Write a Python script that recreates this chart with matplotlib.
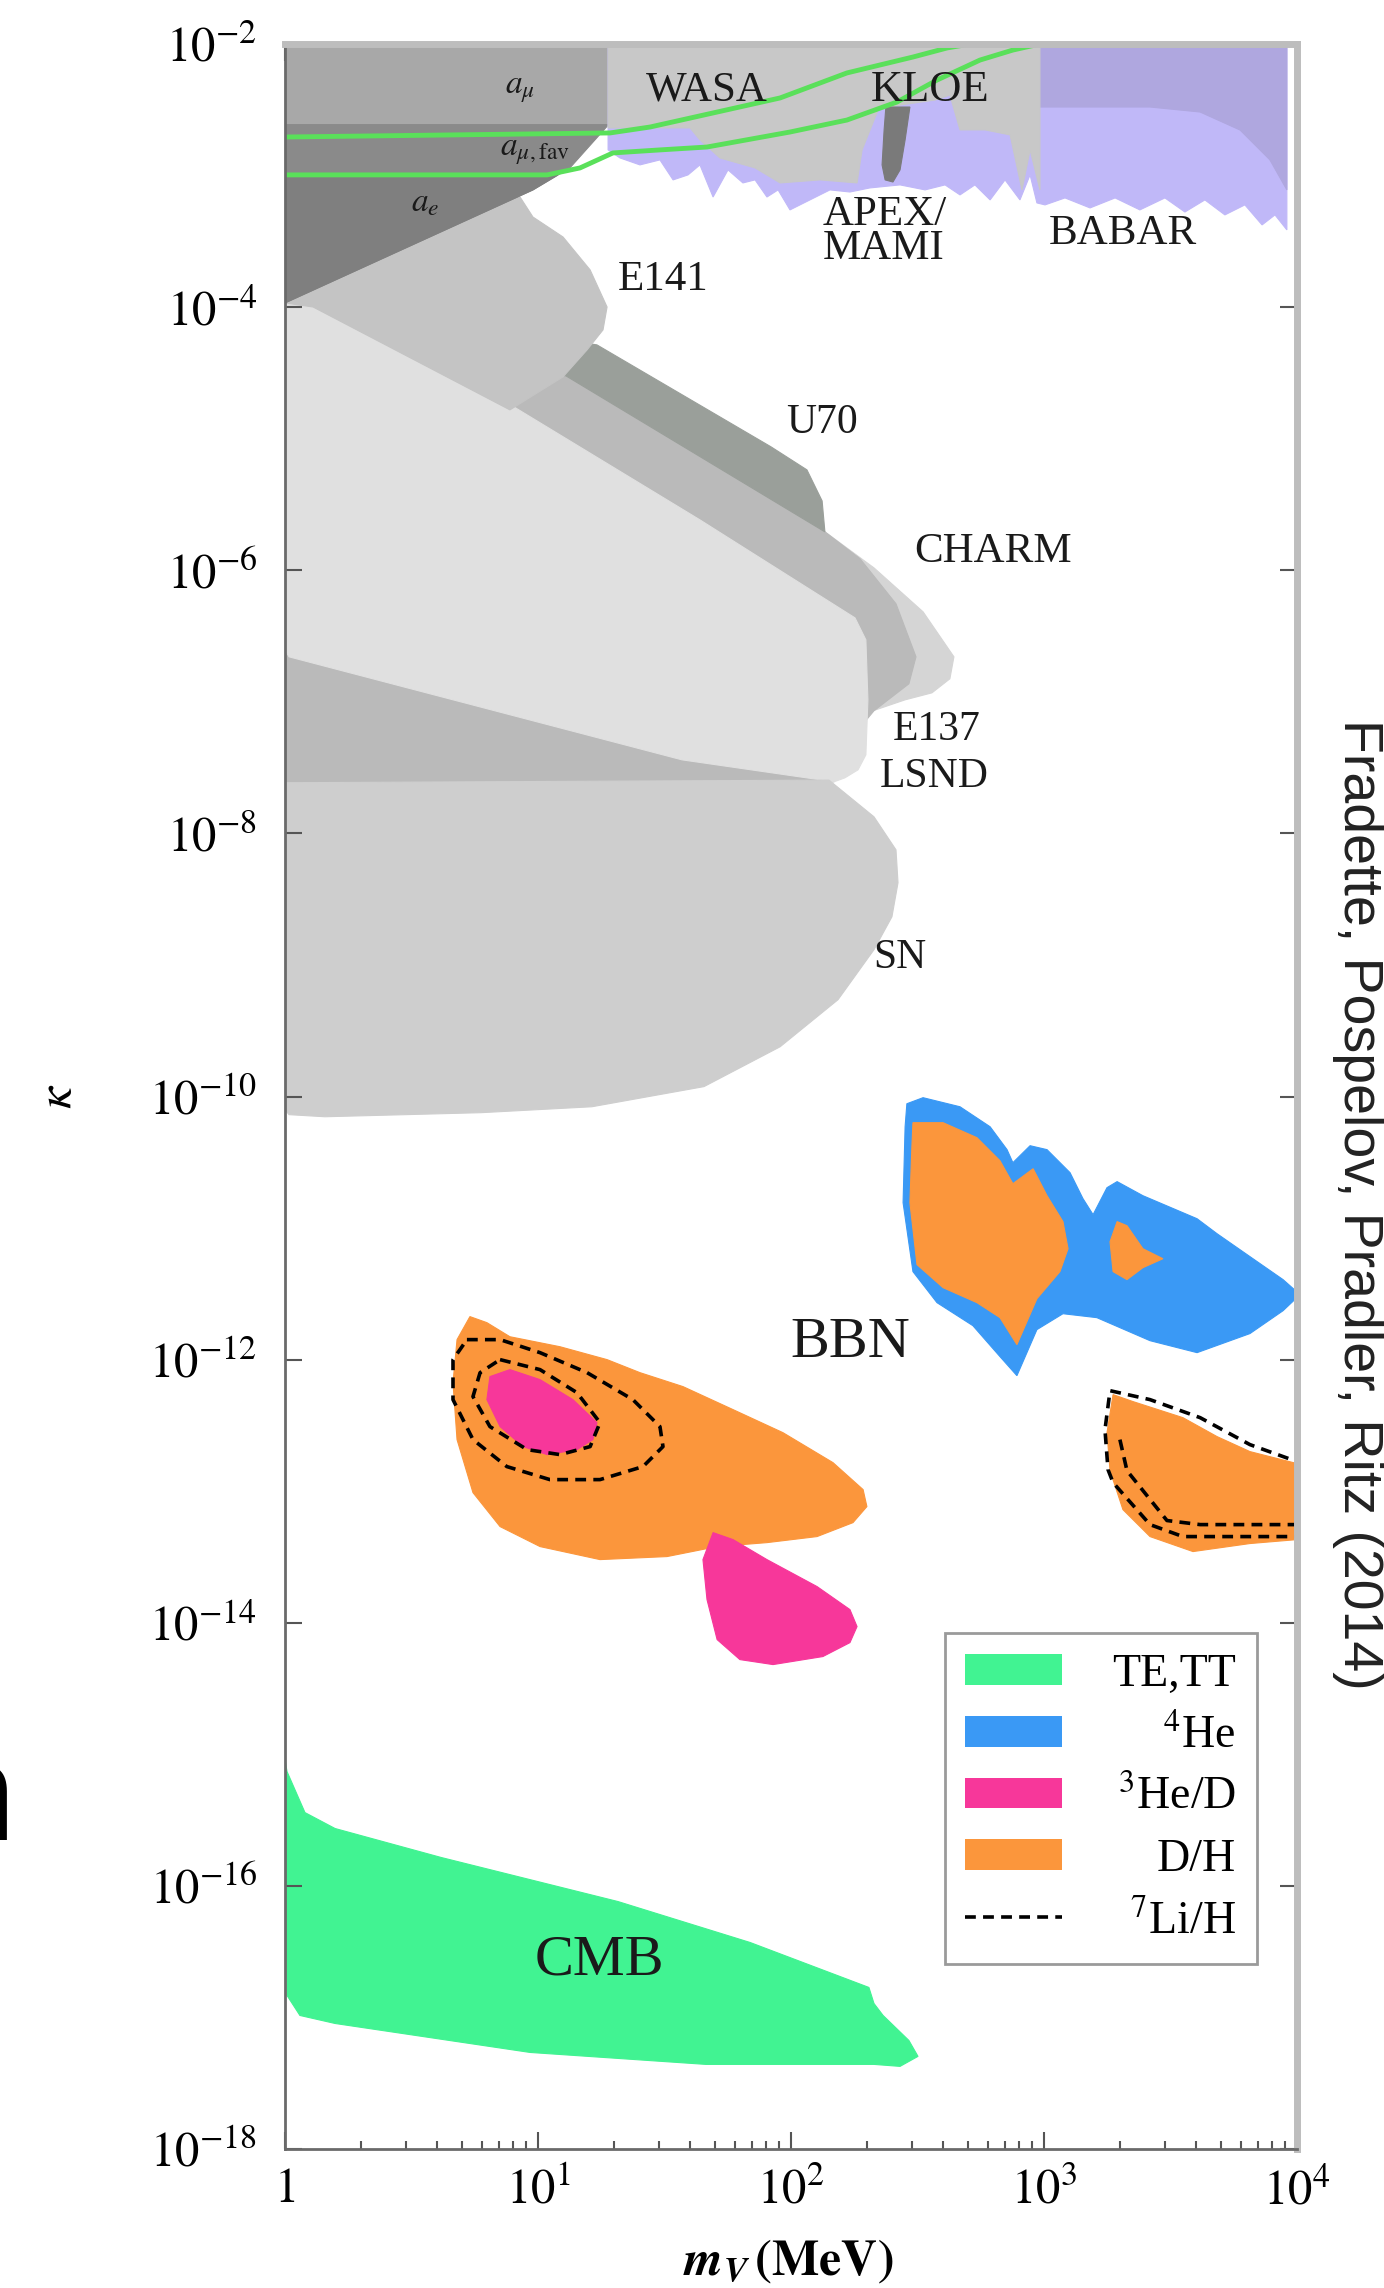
import numpy as np
import matplotlib.pyplot as plt
from matplotlib.patches import Patch
from matplotlib.lines import Line2D
from matplotlib.ticker import NullLocator, LogLocator

plt.rcParams['font.family'] = ['Liberation Serif', 'DejaVu Serif']
plt.rcParams['mathtext.fontset'] = 'stix'

# Exclusion regions in log10(m_V / MeV) and log10(kappa)
amu_lm = [0.0, 1.28, 1.28, 0.0]
amu_lk = [-2.0, -2.0, -2.60, -2.60]

amufav_lm = [0.0, 1.285, 1.126, 0.980, 0.0]
amufav_lk = [-2.60, -2.60, -2.942, -3.109, -3.968]

ae_lm = [0.0, 1.079, 0.980, 0.0]
ae_lk = [-2.995, -2.995, -3.109, -3.968]

# g-2 favoured band edges
gm2_up_lm = [0.0, 1.285, 1.443, 1.692, 1.957, 2.221, 2.482, 2.617, 2.708, 2.787]
gm2_up_lk = [-2.707, -2.676, -2.631, -2.524, -2.410, -2.220, -2.099, -2.030, -2.0, -1.954]
gm2_lo_lm = [0.0, 1.036, 1.166, 1.296, 1.482, 1.668, 1.996, 2.221, 2.419, 2.577, 2.747, 2.877, 2.984, 3.063]
gm2_lo_lk = [-2.995, -2.995, -2.942, -2.828, -2.805, -2.783, -2.669, -2.578, -2.441, -2.274, -2.122, -2.046, -2.0, -1.954]

babar_lm = [1.277, 3.960, 3.960, 3.913, 3.862, 3.794, 3.715, 3.636, 3.557, 3.478, 3.379, 3.281,
            3.182, 3.083, 3.004, 2.972, 2.945, 2.905, 2.846, 2.787, 2.727, 2.668, 2.609, 2.530,
            2.431, 2.312, 2.233, 2.154, 2.075, 1.996, 1.949, 1.905, 1.858, 1.810, 1.751, 1.692,
            1.640, 1.593, 1.534, 1.482, 1.403, 1.324, 1.277]
babar_lk = [-2.0, -2.0, -3.413, -3.299, -3.375, -3.223, -3.299, -3.185, -3.277, -3.170, -3.261, -3.170,
            -3.246, -3.170, -3.223, -3.208, -2.995, -3.185, -3.033, -3.185, -3.071, -3.147, -3.071, -3.109,
            -3.071, -3.094, -3.125, -3.109, -3.185, -3.261, -3.109, -3.163, -3.033, -3.056, -2.957, -3.163,
            -2.919, -2.995, -3.033, -2.881, -2.919, -2.866, -2.805]

babar_top_lm = [2.972, 3.960, 3.960, 3.893, 3.775, 3.617, 3.419, 2.972]
babar_top_lk = [-2.0, -2.0, -3.109, -2.881, -2.654, -2.517, -2.479, -2.479]

wasa_lm = [1.277, 2.984, 2.984, 2.945, 2.913, 2.866, 2.767, 2.668, 2.628, 2.569, 2.431, 2.344,
           2.281, 2.261, 2.115, 1.957, 1.858, 1.719, 1.640, 1.601, 1.277]
wasa_lk = [-2.0, -2.0, -3.109, -2.805, -3.109, -2.691, -2.653, -2.653, -2.388, -2.426, -2.464, -2.502,
           -2.805, -3.056, -3.033, -3.056, -2.942, -2.866, -2.729, -2.638, -2.638]

apex_lm = [2.375, 2.470, 2.451, 2.431, 2.403, 2.372, 2.360, 2.368]
apex_lk = [-2.479, -2.479, -2.729, -2.957, -3.049, -3.033, -2.919, -2.654]

e141_lm = [0.0, 0.111, 0.889, 1.099, 1.194, 1.257, 1.273, 1.206, 1.099, 0.980, 0.929, 0.652, 0.0]
e141_lk = [-3.968, -3.999, -4.781, -4.530, -4.325, -4.173, -3.999, -3.717, -3.467, -3.315, -3.163, -3.185, -3.793]

u70_lm = [0.850, 1.233, 1.921, 2.063, 2.123, 2.134, 1.111, 0.771]
u70_lk = [-4.173, -4.287, -5.062, -5.237, -5.473, -5.708, -4.523, -4.401]

charm_lm = [0.850, 2.134, 2.328, 2.522, 2.644, 2.628, 2.557, 2.451, 2.312, 2.194, 0.455]
charm_lk = [-4.705, -5.708, -5.982, -6.316, -6.658, -6.825, -6.932, -6.985, -7.076, -7.441, -6.985]

e137_lm = [0.0, 0.850, 1.111, 2.134, 2.273, 2.415, 2.494, 2.466, 2.328, 2.233, 2.170, 0.051, 0.0]
e137_lk = [-4.173, -4.705, -4.523, -5.708, -5.913, -6.255, -6.658, -6.863, -7.068, -7.289, -7.608, -7.660, -7.610]

lsnd_lm = [0.0, 0.111, 0.889, 1.640, 2.253, 2.296, 2.304, 2.296, 2.265, 2.213, 2.170, 1.569, 0.016, 0.0]
lsnd_lk = [-3.95, -3.99, -4.74, -5.617, -6.362, -6.529, -6.985, -7.403, -7.517, -7.578, -7.608, -7.441, -6.658, -6.605]

sn_lm = [0.0, 2.150, 2.328, 2.415, 2.423, 2.399, 2.328, 2.186, 1.957, 1.656, 1.213, 0.775, 0.158, 0.016, 0.0]
sn_lk = [-7.615, -7.595, -7.874, -8.125, -8.375, -8.634, -8.884, -9.264, -9.622, -9.925, -10.078, -10.123,
         -10.154, -10.138, -10.100]

# BBN regions
he4_lm = [2.458, 2.522, 2.668, 2.787, 2.854, 2.877, 2.945, 3.012, 3.103, 3.154, 3.194, 3.249, 3.289,
          3.391, 3.605, 3.684, 3.814, 3.945, 4.012, 3.945, 3.814, 3.605, 3.419, 3.209, 3.075, 2.972,
          2.893, 2.826, 2.719, 2.577, 2.482, 2.443, 2.451]
he4_lk = [-10.055, -10.009, -10.078, -10.230, -10.404, -10.503, -10.374, -10.404, -10.579, -10.776,
          -10.898, -10.693, -10.647, -10.754, -10.929, -11.043, -11.217, -11.392, -11.506, -11.628,
          -11.802, -11.947, -11.856, -11.681, -11.651, -11.772, -12.122, -11.977, -11.742, -11.567,
          -11.331, -10.807, -10.230]

dh_a_lm = [2.482, 2.601, 2.735, 2.826, 2.877, 2.957, 3.012, 3.075, 3.095, 3.063, 2.972, 2.893, 2.826,
           2.735, 2.601, 2.498, 2.470, 2.478]
dh_a_lk = [-10.199, -10.199, -10.313, -10.488, -10.663, -10.549, -10.754, -10.951, -11.157, -11.331,
           -11.537, -11.886, -11.681, -11.567, -11.453, -11.278, -10.807, -10.374]

dh_b_lm = [3.289, 3.328, 3.391, 3.470, 3.391, 3.328, 3.273, 3.261]
dh_b_lk = [-10.951, -10.982, -11.157, -11.233, -11.301, -11.392, -11.331, -11.104]

dh_c_lm = [3.273, 3.352, 3.549, 3.684, 3.814, 4.0, 4.130, 4.130, 4.0, 3.814, 3.589, 3.419, 3.312, 3.261, 3.249]
dh_c_lk = [-12.266, -12.319, -12.441, -12.585, -12.699, -12.790, -12.874, -13.406, -13.368, -13.398,
           -13.459, -13.345, -13.140, -12.844, -12.555]

dh_d_lm = [0.731, 0.798, 0.889, 1.087, 1.273, 1.403, 1.573, 1.771, 1.968, 2.166, 2.285, 2.300, 2.245,
           2.103, 1.905, 1.708, 1.510, 1.245, 1.008, 0.850, 0.743, 0.680, 0.664, 0.680]
dh_d_lk = [-11.673, -11.719, -11.826, -11.902, -12.0, -12.099, -12.205, -12.380, -12.555, -12.783,
           -12.988, -13.117, -13.239, -13.345, -13.391, -13.421, -13.497, -13.520, -13.421, -13.269,
           -13.011, -12.608, -12.175, -11.848]

he3_a_lm = [0.810, 0.889, 1.008, 1.138, 1.233, 1.217, 1.154, 1.036, 0.941, 0.850, 0.798]
he3_a_lk = [-12.129, -12.076, -12.152, -12.304, -12.479, -12.608, -12.684, -12.722, -12.661, -12.509, -12.304]

he3_b_lm = [1.692, 1.771, 1.905, 2.103, 2.233, 2.261, 2.233, 2.126, 1.929, 1.798, 1.708, 1.668, 1.652]
he3_b_lk = [-13.315, -13.368, -13.520, -13.725, -13.900, -14.029, -14.151, -14.257, -14.318, -14.280,
            -14.128, -13.824, -13.520]

li_a_lm = [0.850, 1.008, 1.154, 1.245, 1.206, 1.087, 0.957, 0.810, 0.743, 0.771, 0.850]
li_a_lk = [-12.0, -12.076, -12.251, -12.479, -12.661, -12.722, -12.684, -12.509, -12.281, -12.099, -12.0]

li_b_lm = [0.719, 0.850, 1.008, 1.194, 1.375, 1.482, 1.494, 1.415, 1.245, 1.047, 0.877, 0.743, 0.664, 0.664, 0.719]
li_b_lk = [-11.848, -11.848, -11.947, -12.099, -12.304, -12.509, -12.661, -12.813, -12.912, -12.912,
           -12.813, -12.608, -12.304, -12.0, -11.848]

li_c_lm = [4.17, 4.0, 3.814, 3.617, 3.419, 3.261, 3.241, 3.253, 3.273, 3.419, 3.549, 4.0, 4.17]
li_c_lk = [-12.874, -12.775, -12.646, -12.441, -12.304, -12.236, -12.533, -12.836, -12.935, -13.254,
           -13.345, -13.345, -13.345]

li_d_lm = [3.300, 3.328, 3.486, 3.617, 4.0, 4.17]
li_d_lk = [-12.608, -12.844, -13.223, -13.254, -13.254, -13.254]

# CMB (TE,TT)
cmb_lm = [0.008, 0.079, 0.198, 0.617, 1.316, 1.838, 2.308, 2.328, 2.364, 2.466, 2.502, 2.431, 2.328,
          1.664, 0.968, 0.198, 0.059, 0.008, 0.0]
cmb_lk = [-15.131, -15.443, -15.564, -15.784, -16.119, -16.430, -16.772, -16.894, -16.985, -17.175,
          -17.296, -17.372, -17.357, -17.357, -17.266, -17.046, -16.985, -16.833, -15.040]

x_ticks = [1, 10, 100, 1000, 10000]
x_ticklabels = ['$1$', '$10^{1}$', '$10^{2}$', '$10^{3}$', '$10^{4}$']
y_exps = [-18, -16, -14, -12, -10, -8, -6, -4, -2]

c_green = '#41f392'
c_blue = '#3a99f5'
c_pink = '#f7379a'
c_orange = '#fb963c'

fig = plt.figure(figsize=(13.84, 22.88), dpi=100)
ax = fig.add_axes([285 / 1384, 1 - 2149 / 2288, 1012 / 1384, 2105 / 2288])
ax.set_xscale('log')
ax.set_yscale('log')
ax.set_xlim(1, 1e4)
ax.set_ylim(1e-18, 1e-2)


def region(lm, lk, color, z=1):
    ax.fill(10.0 ** np.array(lm), 10.0 ** np.array(lk), facecolor=color, edgecolor=color,
            lw=0.8, zorder=z)


def contour(lm, lk, z=2.2):
    ax.plot(10.0 ** np.array(lm), 10.0 ** np.array(lk), color='k', ls='--', lw=2.6,
            dashes=(3, 2), zorder=z)


# beam dump, supernova and g-2 limits
region(charm_lm, charm_lk, '#d5d5d5', 1.0)
region(e137_lm, e137_lk, '#bababa', 1.1)
region(u70_lm, u70_lk, '#9a9f9a', 1.2)
region(lsnd_lm, lsnd_lk, '#e0e0e0', 1.25)
region(e141_lm, e141_lk, '#c4c4c4', 1.3)
region(sn_lm, sn_lk, '#cecece', 1.5)
region(amufav_lm, amufav_lk, '#8a8a8a', 1.6)
region(ae_lm, ae_lk, '#7f7f7f', 1.7)
region(amu_lm, amu_lk, '#a8a8a8', 1.6)

# collider / fixed-target searches
region(babar_lm, babar_lk, '#c0b8f8', 1.6)
region(babar_top_lm, babar_top_lk, '#afa7df', 1.7)
region(wasa_lm, wasa_lk, '#c8c8c8', 1.8)
region(apex_lm, apex_lk, '#7a7a7a', 1.9)
ax.plot(10.0 ** np.array(gm2_up_lm), 10.0 ** np.array(gm2_up_lk), color='#5ae05a', lw=3.5, zorder=2)
ax.plot(10.0 ** np.array(gm2_lo_lm), 10.0 ** np.array(gm2_lo_lk), color='#5ae05a', lw=3.5, zorder=2)

# BBN
region(he4_lm, he4_lk, c_blue, 1.5)
region(dh_a_lm, dh_a_lk, c_orange, 1.6)
region(dh_b_lm, dh_b_lk, c_orange, 1.6)
region(dh_c_lm, dh_c_lk, c_orange, 1.6)
region(dh_d_lm, dh_d_lk, c_orange, 1.6)
region(he3_a_lm, he3_a_lk, c_pink, 1.7)
region(he3_b_lm, he3_b_lk, c_pink, 1.7)
for lm, lk in [(li_a_lm, li_a_lk), (li_b_lm, li_b_lk), (li_c_lm, li_c_lk), (li_d_lm, li_d_lk)]:
    contour(lm, lk)

# CMB
region(cmb_lm, cmb_lk, c_green, 1.5)

# labels
lab = dict(ha='center', va='center', zorder=5, color='#1a1a1a')
ax.text(10 ** 0.929, 10 ** -2.35, r'$a_{\mu}$', fontsize=24, **lab)
ax.text(10 ** 0.988, 10 ** -2.821, r'$a_{\mu,\mathrm{fav}}$', fontsize=24, **lab)
ax.text(10 ** 0.553, 10 ** -3.208, r'$a_{e}$', fontsize=24, **lab)
ax.text(10 ** 1.668, 10 ** -2.35, 'WASA', fontsize=31, **lab)
ax.text(10 ** 2.549, 10 ** -2.35, 'KLOE', fontsize=32, **lab)
ax.text(10 ** 2.126, 10 ** -3.429, 'APEX/\nMAMI', fontsize=31, ha='left', va='center',
        linespacing=0.85, zorder=5, color='#1a1a1a')
ax.text(10 ** 3.312, 10 ** -3.444, 'BABAR', fontsize=31, **lab)
ax.text(10 ** 1.494, 10 ** -3.793, 'E141', fontsize=31, **lab)
ax.text(10 ** 2.123, 10 ** -4.88, 'U70', fontsize=30, **lab)
ax.text(10 ** 2.798, 10 ** -5.86, 'CHARM', fontsize=31, **lab)
ax.text(10 ** 2.403, 10 ** -7.213, 'E137', fontsize=30, ha='left', va='center', zorder=5, color='#1a1a1a')
ax.text(10 ** 2.352, 10 ** -7.57, 'LSND', fontsize=30, ha='left', va='center', zorder=5, color='#1a1a1a')
ax.text(10 ** 2.431, 10 ** -8.945, 'SN', fontsize=30, **lab)
ax.text(10 ** 2.233, 10 ** -11.871, 'BBN', fontsize=42, **lab)
ax.text(10 ** 1.241, 10 ** -16.567, 'CMB', fontsize=42, **lab)

# axes styling
ax.set_xticks(x_ticks)
ax.set_xticklabels(x_ticklabels)
ax.xaxis.set_minor_locator(LogLocator(base=10, subs=np.arange(2, 10)))
ax.set_yticks([10.0 ** e for e in y_exps])
ax.set_yticklabels([r'$10^{%d}$' % e for e in y_exps])
ax.yaxis.set_minor_locator(NullLocator())
ax.tick_params(which='both', direction='in', top=True, right=True, color='#555555', width=1.5)
ax.tick_params(which='major', length=12)
ax.tick_params(which='minor', length=6)
ax.tick_params(axis='x', labelsize=35, pad=14)
ax.tick_params(axis='y', labelsize=35, pad=20)
for s in ['left', 'bottom']:
    ax.spines[s].set_color('#6a6a6a')
    ax.spines[s].set_linewidth(2)
for s in ['top', 'right']:
    ax.spines[s].set_color('#bdbdbd')
    ax.spines[s].set_linewidth(5)

ax.set_xlabel(r'$\mathbfit{m}_{\mathbfit{V}}\,\mathbf{(MeV)}$', fontsize=36)
ax.xaxis.set_label_coords(0.497, -0.054)
ax.xaxis.label.set_va('center')
ax.set_ylabel(r'$\kappa$', fontsize=36)
ax.yaxis.set_label_coords(-0.224, 0.5)
ax.yaxis.label.set_va('center')

# legend, labels flushed right
handles = [Patch(facecolor=c_green, edgecolor='none'),
           Patch(facecolor=c_blue, edgecolor='none'),
           Patch(facecolor=c_pink, edgecolor='none'),
           Patch(facecolor=c_orange, edgecolor='none'),
           Line2D([], [], color='k', ls='--', lw=2.6, dashes=(3, 2))]
labels = ['TE,TT', r'$^{4}$He', r'$^{3}$He/D', 'D/H', r'$^{7}$Li/H']
leg = ax.legend(handles, labels, loc='lower right', bbox_to_anchor=(0.960, 0.088),
                borderaxespad=0, fontsize=33, handlelength=2.1, handleheight=0.65,
                labelspacing=0.42, handletextpad=1.1, borderpad=0.45, fancybox=False,
                framealpha=1, edgecolor='#9a9a9a')
leg.get_frame().set_linewidth(2)
leg.set_zorder(6)
fig.canvas.draw()
renderer = fig.canvas.get_renderer()
widths = [t.get_window_extent(renderer).width for t in leg.get_texts()]
wmax = max(widths)
for t, w in zip(leg.get_texts(), widths):
    t.set_position((wmax - w, 0))

fig.text(1358 / 1384, 1 - 1204 / 2288, 'Fradette, Pospelov, Pradler, Ritz (2014)',
         rotation=270, ha='center', va='center', fontsize=40, family='Liberation Sans',
         color='#222222')
fig.text(17 / 1384, 1 - 1840 / 2288, 'n', ha='right', va='baseline', fontsize=100,
         family='Open Sans', color='black')

fig.savefig('out.png', dpi=100)
